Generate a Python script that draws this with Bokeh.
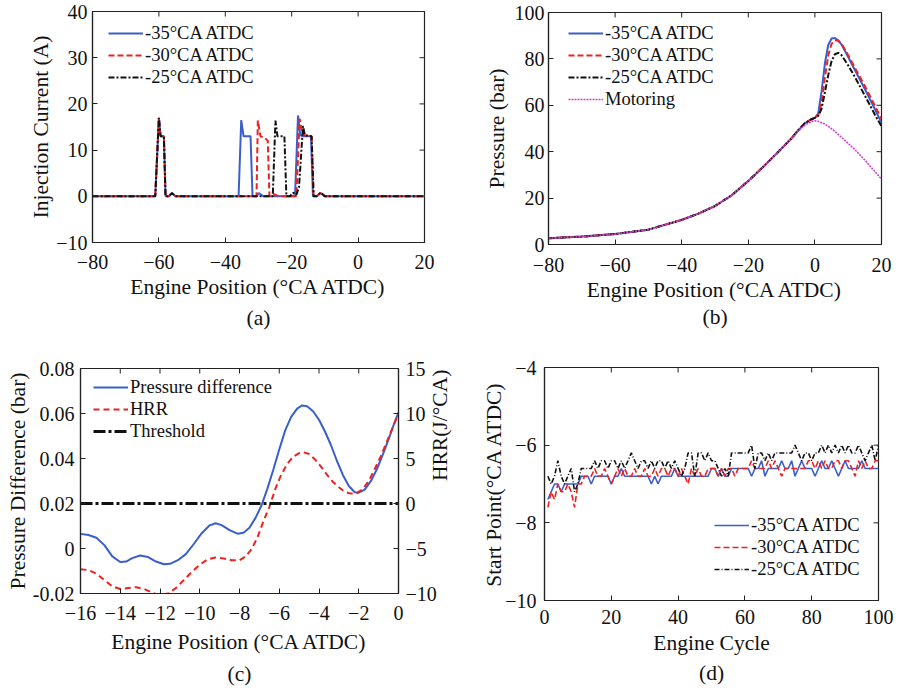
import math
from bokeh.plotting import figure
from bokeh.layouts import column, row
from bokeh.models import (Range1d, LinearAxis, FixedTicker, Legend, LegendItem,
                          Title, CustomJSTickFormatter)
from bokeh.embed import file_html
from bokeh.resources import INLINE

# ---------------- data ----------------
# (a) injection current (A) vs engine position (deg CA ATDC)
inj35_x = [-80, -61.1, -60.0, -59.5, -58.5, -58.0, -57.0, -56.1, -55.0, -36.0, -35.2, -34.5,
           -32.4, -31.8, -30.6, -29.9, -28.6, -19.0, -18.1, -17.4, -16.6, -14.2, -13.6,
           -12.5, -11.3, -10.0, 20]
inj35_y = [0, 0, 17.0, 13.0, 13.0, 0, 0, 0.7, 0, 0, 16.5, 13.0,
           13.0, 0, 0, 0.7, 0, 0, 17.5, 13.2, 13.0, 13.0, 0,
           0, 0.7, 0, 0]
inj30_x = [-80, -61.1, -60.0, -59.5, -58.5, -58.0, -57.0, -56.1, -55.0, -30.6, -30.2, -29.4,
           -28.0, -27.2, -26.7, -25.5, -24.5, -23.0, -18.6, -17.6, -17.0, -16.2, -14.0,
           -13.4, -12.5, -11.3, -10.0, 20]
inj30_y = [0, 0, 17.0, 13.0, 13.0, 0, 0, 0.7, 0, 0, 16.4, 13.0,
           12.6, 12.0, 0, 0.5, 0.2, 0, 0, 16.8, 14.5, 13.2, 13.0,
           0, 0, 0.7, 0, 0]
inj25_x = [-80, -61.1, -60.0, -59.5, -58.5, -58.0, -57.0, -56.1, -55.0, -25.7, -24.9, -24.3,
           -22.2, -21.6, -20.5, -19.6, -18.6, -17.8, -16.6, -16.0, -14.0, -13.4,
           -12.5, -11.3, -10.0, 20]
inj25_y = [0, 0, 17.0, 13.0, 13.0, 0, 0, 0.7, 0, 0, 16.4, 13.0,
           13.0, 0, 0, 0.8, 0.3, 2.0, 15.2, 13.2, 13.0, 0,
           0, 0.8, 0, 0]

# (b) cylinder pressure (bar)
mot_x = [-80, -70, -60, -50, -40, -35, -30, -25, -20, -15, -10, -7, -5, -3, -1, 0,
         1, 3, 5, 8, 10, 12, 15, 18, 20]
mot_y = [2.7, 3.4, 4.5, 6.4, 10.6, 13.3, 16.6, 21.2, 27.4, 34.2, 41.4, 45.8, 48.9, 51.5,
         53.0, 53.3, 53.1, 51.9, 49.9, 46.2, 43.6, 40.9, 36.4, 31.5, 28.2]
p35_x = [-80, -70, -60, -50, -40, -35, -30, -25, -20, -15, -10, -7, -5, -3, -1, 0, 1,
         2, 3, 4, 5, 6, 7, 8, 10, 12, 15, 18, 20]
p35_y = [2.7, 3.4, 4.5, 6.4, 10.6, 13.3, 16.6, 21.2, 27.4, 34.2, 41.4, 45.8, 49.2, 52.3,
         54.0, 54.6, 56.5, 66.0, 78.0, 86.0, 88.8, 89.0, 88.0, 86.2, 80.8, 75.2, 67.0,
         58.4, 52.4]
p30_x = list(p35_x)
p30_y = [2.7, 3.4, 4.5, 6.4, 10.6, 13.3, 16.6, 21.2, 27.4, 34.2, 41.4, 45.8, 49.2, 52.3,
         54.0, 54.6, 55.8, 61.0, 72.0, 81.5, 86.5, 88.0, 87.8, 86.6, 81.6, 76.2, 68.3,
         59.8, 54.2]
p25_x = list(p35_x)
p25_y = [2.7, 3.4, 4.5, 6.4, 10.6, 13.3, 16.6, 21.2, 27.4, 34.2, 41.4, 45.8, 49.2, 52.3,
         54.0, 54.6, 55.4, 58.5, 65.5, 73.0, 79.0, 82.0, 82.6, 81.6, 77.2, 72.2, 64.2,
         56.0, 50.9]

# (c) pressure difference (bar) and HRR (J/degCA)
pd_x = [-16, -15.6, -15.2, -14.8, -14.4, -14.0, -13.7, -13.4, -13.0, -12.6, -12.2, -11.8,
        -11.5, -11.1, -10.7, -10.3, -9.9, -9.5, -9.2, -8.9, -8.5, -8.1, -7.8, -7.5, -7.2,
        -6.9, -6.6, -6.3, -6.0, -5.7, -5.4, -5.1, -4.85, -4.6, -4.3, -4.0, -3.7, -3.4,
        -3.1, -2.8, -2.5, -2.2, -2.0, -1.7, -1.4, -1.1, -0.8, -0.5, -0.2, 0]
pd_y = [0.0065, 0.0060, 0.0048, 0.0015, -0.0035, -0.0060, -0.0058, -0.0043, -0.0031,
        -0.0038, -0.0058, -0.0070, -0.0068, -0.0052, -0.0025, 0.0020, 0.0068, 0.0103,
        0.0112, 0.0104, 0.0082, 0.0066, 0.0070, 0.0092, 0.0135, 0.0190, 0.0265, 0.0350,
        0.0440, 0.0525, 0.0585, 0.0622, 0.0636, 0.0632, 0.0610, 0.0572, 0.0520, 0.0460,
        0.0390, 0.0327, 0.0278, 0.0250, 0.0248, 0.0262, 0.0298, 0.0350, 0.0415, 0.0485,
        0.0560, 0.0605]
hrr_x = [-16, -15.6, -15.2, -14.8, -14.4, -14.0, -13.6, -13.2, -12.8, -12.4, -12.0, -11.6,
         -11.2, -10.8, -10.4, -10.0, -9.6, -9.2, -8.8, -8.4, -8.0, -7.7, -7.4, -7.1, -6.8,
         -6.5, -6.2, -5.9, -5.6, -5.3, -5.0, -4.8, -4.5, -4.2, -3.9, -3.6, -3.3, -3.0,
         -2.7, -2.4, -2.1, -1.8, -1.5, -1.2, -0.9, -0.6, -0.3, 0]
hrr_y = [-7.3, -7.4, -7.8, -8.5, -9.2, -9.5, -9.4, -9.3, -9.5, -9.9, -10.2, -10.0, -9.4,
         -8.5, -7.6, -6.8, -6.2, -6.0, -6.1, -6.3, -6.3, -5.9, -5.1, -3.8, -2.0, -0.4, 1.6,
         3.2, 4.4, 5.2, 5.6, 5.7, 5.5, 4.9, 4.1, 3.2, 2.4, 1.8, 1.3, 1.1, 1.15, 1.6, 2.5,
         3.8, 5.2, 6.8, 8.4, 10.0]
threshold = 0.02

# (d) start point (deg CA ATDC) per engine cycle
cycles = list(range(1, 101))
sp35 = [-7.4, -7.2, -7.0, -7.0, -7.2, -7.0, -7.0, -7.0, -7.0, -7.0,
        -6.8, -6.8, -6.8, -7.0, -6.8, -6.8, -6.8, -6.8, -6.8, -7.0,
        -6.8, -6.8, -6.6, -6.8, -6.8, -6.8, -6.8, -6.8, -6.8, -6.8,
        -6.8, -7.0, -6.8, -7.0, -6.8, -6.8, -6.8, -6.8, -6.6, -6.8,
        -6.8, -6.8, -6.8, -6.8, -6.8, -6.8, -6.8, -6.8, -6.8, -6.6,
        -6.6, -6.8, -6.6, -6.8, -6.8, -6.6, -6.6, -6.6, -6.6, -6.6,
        -6.6, -6.8, -6.6, -6.6, -6.4, -6.8, -6.6, -6.6, -6.6, -6.6,
        -6.4, -6.6, -6.6, -6.4, -6.8, -6.6, -6.4, -6.6, -6.6, -6.6,
        -6.8, -6.6, -6.4, -6.6, -6.6, -6.4, -6.6, -6.8, -6.6, -6.4,
        -6.6, -6.6, -6.6, -6.6, -6.4, -6.6, -6.6, -6.6, -6.6, -6.6]
sp30 = [-7.6, -7.2, -7.4, -7.0, -7.2, -7.2, -7.0, -7.2, -7.6, -7.0,
        -7.0, -6.8, -6.8, -6.8, -6.6, -6.8, -6.8, -6.6, -6.8, -7.0,
        -6.8, -6.6, -6.8, -6.6, -6.8, -6.8, -6.6, -6.8, -6.8, -6.6,
        -6.8, -6.8, -6.6, -6.8, -6.6, -6.6, -6.8, -6.6, -6.6, -6.8,
        -6.6, -6.8, -7.0, -6.6, -6.8, -6.6, -6.8, -6.8, -6.6, -6.6,
        -6.6, -6.8, -6.6, -6.8, -6.6, -6.6, -6.8, -6.6, -6.6, -6.6,
        -6.6, -6.4, -6.6, -6.6, -6.6, -6.6, -6.4, -6.6, -6.4, -6.6,
        -6.8, -6.6, -6.6, -6.6, -6.6, -6.6, -6.6, -6.6, -6.4, -6.4,
        -6.6, -6.4, -6.6, -6.4, -6.6, -6.6, -6.4, -6.4, -6.6, -6.4,
        -6.4, -6.6, -6.8, -6.4, -6.6, -6.4, -6.6, -6.6, -6.4, -6.4]
sp25 = [-6.8, -7.0, -6.8, -6.4, -6.8, -7.0, -6.8, -6.6, -7.2, -7.0,
        -6.6, -6.6, -6.6, -6.6, -6.4, -6.6, -6.4, -6.4, -6.6, -6.4,
        -6.4, -6.6, -6.4, -6.6, -6.4, -6.2, -6.4, -6.6, -6.4, -6.4,
        -6.6, -6.4, -6.6, -6.4, -6.4, -6.6, -6.4, -6.6, -6.4, -6.6,
        -6.8, -6.6, -6.2, -6.2, -6.8, -6.2, -6.2, -6.4, -6.2, -6.4,
        -6.4, -6.6, -6.8, -6.6, -6.8, -6.2, -6.2, -6.2, -6.2, -6.2,
        -6.2, -6.0, -6.6, -6.2, -6.2, -6.4, -6.2, -6.4, -6.2, -6.2,
        -6.2, -6.2, -6.2, -6.2, -6.0, -6.2, -6.4, -6.2, -6.2, -6.4,
        -6.2, -6.2, -6.0, -6.2, -6.0, -6.2, -6.0, -6.2, -6.0, -6.2,
        -6.0, -6.2, -6.2, -6.0, -6.2, -6.4, -6.2, -6.0, -6.4, -6.0]

# tick positions
eng_ticks = [-80, -60, -40, -20, 0, 20]
inj_ticks = [-10, 0, 10, 20, 30, 40]
pres_ticks = [0, 20, 40, 60, 80, 100]
c_x_ticks = [-16, -14, -12, -10, -8, -6, -4, -2, 0]
pd_ticks = [-0.02, 0, 0.02, 0.04, 0.06, 0.08]
hrr_ticks = [-10, -5, 0, 5, 10, 15]
cyc_ticks = [0, 20, 40, 60, 80, 100]
sp_ticks = [-10, -8, -6, -4]

# ---------------- style ----------------
FONT = "Liberation Serif"
TXT = "#111111"
BLUE = "#3a5fcd"
RED = "#ee2020"
BLACK = "#111111"
MAGENTA = "#cc44cc"
TICK_FS = "20px"
LABEL_FS = "21.5px"
LEG_FS = "18.5px"
EDGE = "#222222"


def style_axis(ax, ticks, standoff=7, label_standoff=4):
    ax.ticker = FixedTicker(ticks=ticks)
    ax.minor_tick_line_color = None
    ax.major_tick_in = 5
    ax.major_tick_out = 0
    ax.major_tick_line_color = EDGE
    ax.axis_line_color = EDGE
    ax.axis_line_width = 1.2
    ax.major_label_text_font = FONT
    ax.major_label_text_font_size = TICK_FS
    ax.major_label_text_color = TXT
    ax.major_label_standoff = standoff
    ax.axis_label_text_font = FONT
    ax.axis_label_text_font_size = LABEL_FS
    ax.axis_label_text_font_style = "normal"
    ax.axis_label_text_color = TXT
    ax.axis_label_standoff = label_standoff


def mirror_ticks(p, xticks, yticks, xr, yr, right=True):
    # inward tick marks on the top (and right) edges of the box
    top_y = [yr[1]] * len(xticks)
    p.ray(x=xticks, y=top_y, length=5, length_units="screen", angle=-math.pi / 2,
          line_color=EDGE, line_width=1)
    if right:
        right_x = [xr[1]] * len(yticks)
        p.ray(x=right_x, y=yticks, length=5, length_units="screen", angle=math.pi,
              line_color=EDGE, line_width=1)


def make_fig(w, h, xr, yr, xticks, yticks, borders, xlabel, ylabel, letter,
             xs=7, xls=4, ys=5, yls=4, title_standoff=6, right=True):
    l, r, t, b = borders
    p = figure(width=w, height=h, x_range=Range1d(*xr), y_range=Range1d(*yr),
               output_backend="svg", toolbar_location=None,
               min_border_left=l, min_border_right=r, min_border_top=t,
               min_border_bottom=b, x_axis_label=xlabel, y_axis_label=ylabel)
    p.xgrid.visible = False
    p.ygrid.visible = False
    p.outline_line_color = EDGE
    p.outline_line_width = 1.2
    p.background_fill_color = "white"
    p.border_fill_color = "white"
    style_axis(p.xaxis[0], xticks, xs, xls)
    style_axis(p.yaxis[0], yticks, ys, yls)
    mirror_ticks(p, xticks, yticks, xr, yr, right)
    p.add_layout(Title(text=letter, align="center", text_font=FONT,
                       text_font_size=LABEL_FS, text_font_style="normal",
                       text_color=TXT, standoff=title_standoff), "below")
    return p


def add_legend(p, items, loc, row_h=22):
    lg = Legend(items=[LegendItem(label=t, renderers=[r]) for t, r in items],
                location=loc, padding=0, margin=0, spacing=0,
                label_height=row_h, glyph_height=row_h, glyph_width=35,
                label_standoff=2, border_line_color=None,
                background_fill_alpha=0.0,
                label_text_font=FONT, label_text_font_size=LEG_FS,
                label_text_color=TXT)
    p.add_layout(lg)


# ---------------- (a) ----------------
pa = make_fig(449, 344, (-80, 20), (-10, 40), eng_ticks, inj_ticks,
              (92, 25, 11, 102), "Engine Position (°CA ATDC)",
              "Injection Current (A)", "(a)", xs=12, xls=3, ys=5, yls=0, title_standoff=4)
ra1 = pa.line(inj35_x, inj35_y, line_color=BLUE, line_width=2)
ra2 = pa.line(inj30_x, inj30_y, line_color=RED, line_width=2, line_dash="6 3")
ra3 = pa.line(inj25_x, inj25_y, line_color=BLACK, line_width=2, line_dash="6 2 2 2")
add_legend(pa, [("-35°CA ATDC", ra1), ("-30°CA ATDC", ra2), ("-25°CA ATDC", ra3)],
           (16, 154))

# ---------------- (b) ----------------
pb = make_fig(449, 344, (-80, 20), (0, 100), eng_ticks, pres_ticks,
              (99, 17, 12, 100), "Engine Position (°CA ATDC)",
              "Pressure (bar)", "(b)", xs=13, xls=3, ys=4, yls=3, title_standoff=-3)
rb1 = pb.line(p35_x, p35_y, line_color=BLUE, line_width=2)
rb2 = pb.line(p30_x, p30_y, line_color=RED, line_width=2, line_dash="6 3")
rb3 = pb.line(p25_x, p25_y, line_color=BLACK, line_width=2, line_dash="6 2 2 2")
rb4 = pb.line(mot_x, mot_y, line_color=MAGENTA, line_width=1.6, line_dash="2 1")
add_legend(pb, [("-35°CA ATDC", rb1), ("-30°CA ATDC", rb2), ("-25°CA ATDC", rb3),
                ("Motoring", rb4)], (20, 232 - 10 - 88))

# ---------------- (c) ----------------
pc = make_fig(466, 344, (-16, 0), (-0.02, 0.08), c_x_ticks, pd_ticks,
              (80, 68, 24, 95), "Engine Position (°CA ATDC)",
              "Pressure Difference (bar)", "(c)", xs=12, xls=7, ys=6, yls=0,
              title_standoff=6, right=False)
pc.yaxis[0].formatter = CustomJSTickFormatter(code="return String(Math.round(tick*100)/100);")
pc.extra_y_ranges = {"hrr": Range1d(-10, 15)}
hax = LinearAxis(y_range_name="hrr", axis_label="HRR(J/°CA)")
style_axis(hax, hrr_ticks, standoff=7, label_standoff=0)
try:
    hax.axis_label_orientation = math.pi / 2
except Exception:
    pass
pc.add_layout(hax, "right")
rc1 = pc.line(pd_x, pd_y, line_color=BLUE, line_width=2)
rc2 = pc.line(hrr_x, hrr_y, line_color=RED, line_width=2, line_dash="6 4",
              y_range_name="hrr")
rc3 = pc.line([c_x_ticks[0], c_x_ticks[-1]], [threshold, threshold], line_color=BLACK,
              line_width=3, line_dash="12 3 3 3")
add_legend(pc, [("Pressure difference", rc1), ("HRR", rc2), ("Threshold", rc3)],
           (13, 225 - 8 - 66))

# ---------------- (d) ----------------
pdd = make_fig(432, 344, (0, 100), (-10, -4), cyc_ticks, sp_ticks,
               (78, 20, 23, 88), "Engine Cycle", "Start Point(°CA ATDC)", "(d)",
               xs=9, xls=4, ys=8, yls=-4, title_standoff=3)
rd1 = pdd.line(cycles, sp35, line_color=BLUE, line_width=1.6)
rd2 = pdd.line(cycles, sp30, line_color=RED, line_width=1.6, line_dash="6 3")
rd3 = pdd.line(cycles, sp25, line_color=BLACK, line_width=1.6, line_dash="5 2 1 2")
add_legend(pdd, [("-35°CA ATDC", rd1), ("-30°CA ATDC", rd2), ("-25°CA ATDC", rd3)],
           (170, 20))

layout = column(row(column(pa), column(pb)), row(column(pc), column(pdd)))
open("out.html", "w").write(file_html(layout, INLINE))
